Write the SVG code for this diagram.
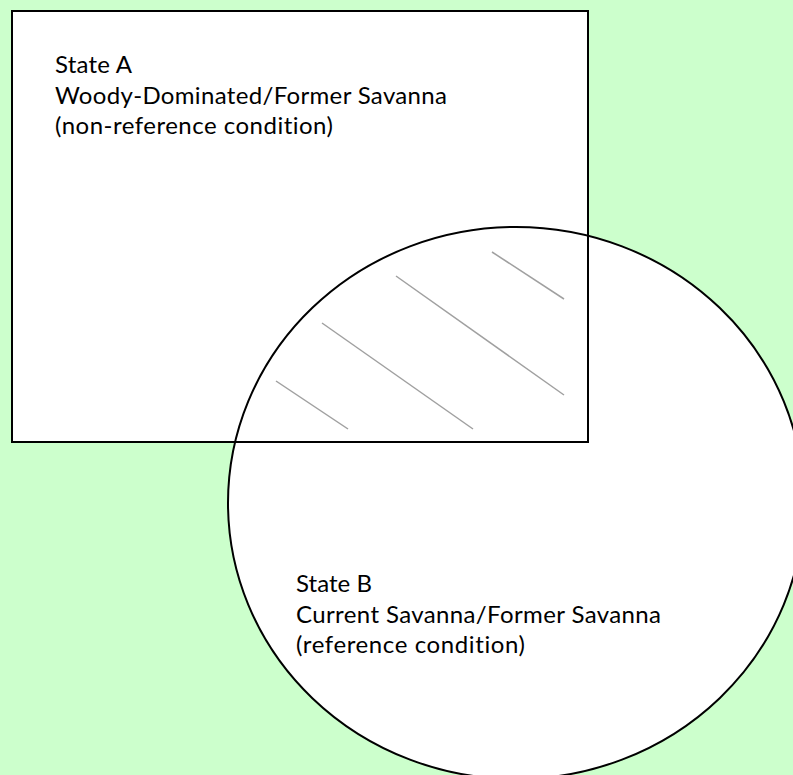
<svg xmlns="http://www.w3.org/2000/svg" width="793" height="775" viewBox="0 0 793 775">
  <style>
    .shape { fill: #ffffff; stroke: #000000; stroke-width: 2; }
    .outline { fill: none; stroke: #000000; stroke-width: 2; }
    .hatch { stroke: #a0a0a0; stroke-width: 1.5; fill: none; }
    .label { font-family: "Lato", "Liberation Sans", sans-serif; font-size: 24px; fill: #000000; font-variant-ligatures: none; }
  </style>
  <rect x="0" y="0" width="793" height="775" fill="#ccffcc"/>
  <g id="stateA">
    <rect class="shape" x="12" y="11" width="576" height="431"/>
  </g>
  <g id="stateB">
    <ellipse class="shape" cx="516" cy="503" rx="288" ry="276"/>
  </g>
  <g id="overlap">
    <rect class="outline" x="12" y="11" width="576" height="431"/>
    <line class="hatch" x1="492" y1="252" x2="564" y2="299"/>
    <line class="hatch" x1="396" y1="276" x2="564" y2="395"/>
    <line class="hatch" x1="322" y1="323" x2="473" y2="429"/>
    <line class="hatch" x1="276" y1="381" x2="348" y2="429"/>
  </g>
  <g id="labelA">
    <text class="label" x="55" y="73" textLength="77" lengthAdjust="spacing">State A</text>
    <text class="label" x="55" y="104" textLength="392" lengthAdjust="spacing">Woody-Dominated/Former Savanna</text>
    <text class="label" x="55" y="134" textLength="278" lengthAdjust="spacing">(non-reference condition)</text>
  </g>
  <g id="labelB">
    <text class="label" x="296" y="592" textLength="76" lengthAdjust="spacing">State B</text>
    <text class="label" x="296" y="623" textLength="365" lengthAdjust="spacing">Current Savanna/Former Savanna</text>
    <text class="label" x="296" y="653" textLength="229" lengthAdjust="spacing">(reference condition)</text>
  </g>
</svg>
